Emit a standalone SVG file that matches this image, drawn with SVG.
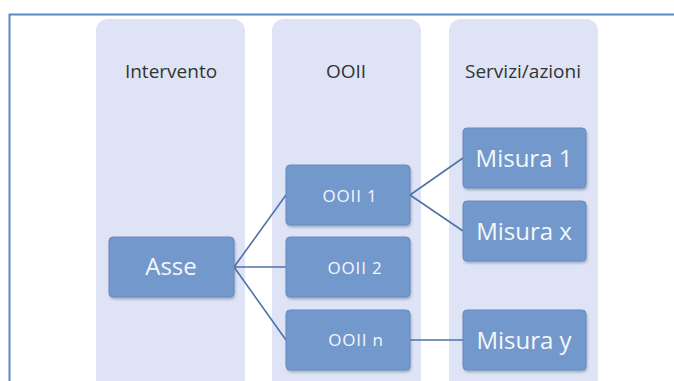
<svg xmlns="http://www.w3.org/2000/svg" width="674" height="381" viewBox="0 0 674 381">
<defs>
<style>
.col{fill:#dee4f5;}
.box{fill:#7399cc;stroke:#6689bf;stroke-width:1;}
.hdr{font-family:"Open Sans","Liberation Sans",sans-serif;font-size:19px;fill:#333333;text-anchor:middle;}
.big{font-family:"Open Sans","Liberation Sans",sans-serif;font-size:24px;fill:#f4f7fc;text-anchor:middle;}
.sm{font-family:"Open Sans","Liberation Sans",sans-serif;font-size:17px;letter-spacing:0.8px;fill:#f4f7fc;text-anchor:middle;}
.con{stroke:#4f72a8;stroke-width:1.6;fill:none;}
</style>
<filter id="sh" x="-10%" y="-10%" width="125%" height="130%">
<feDropShadow dx="1" dy="2" stdDeviation="1.2" flood-color="#3a4f70" flood-opacity="0.35"/>
</filter>
</defs>
<rect x="0" y="0" width="674" height="381" fill="#ffffff"/>
<path d="M9.5 381 V14.5 H674" fill="none" stroke="#5b86c4" stroke-width="2"/>
<g id="columns">
<rect class="col" x="96" y="19" width="149" height="372" rx="12"/>
<rect class="col" x="272" y="19" width="149" height="372" rx="12"/>
<rect class="col" x="449" y="19" width="149" height="372" rx="12"/>
</g>
<g id="headers">
<text class="hdr" x="171" y="78">Intervento</text>
<text class="hdr" x="346" y="78">OOII</text>
<text class="hdr" x="523" y="78">Servizi/azioni</text>
</g>
<g id="connectors">
<path class="con" d="M234 267 L286 195"/>
<path class="con" d="M234 267 L286 267"/>
<path class="con" d="M234 267 L286 340"/>
<path class="con" d="M410 195 L463 158"/>
<path class="con" d="M410 195 L463 231"/>
<path class="con" d="M410 340 L463 340"/>
</g>
<g id="asse">
<rect class="box" filter="url(#sh)" x="109" y="237" width="125" height="60" rx="4"/>
<text class="big" x="171" y="275">Asse</text>
</g>
<g id="ooii1">
<rect class="box" filter="url(#sh)" x="286" y="165" width="124" height="60" rx="4"/>
<text class="sm" x="350" y="202">OOII 1</text>
</g>
<g id="ooii2">
<rect class="box" filter="url(#sh)" x="286" y="237" width="124" height="60" rx="4"/>
<text class="sm" x="355" y="274">OOII 2</text>
</g>
<g id="ooiin">
<rect class="box" filter="url(#sh)" x="286" y="310" width="124" height="60" rx="4"/>
<text class="sm" x="356" y="346">OOII n</text>
</g>
<g id="misura1">
<rect class="box" filter="url(#sh)" x="463" y="128" width="123" height="60" rx="4"/>
<text class="big" x="524" y="167">Misura 1</text>
</g>
<g id="misurax">
<rect class="box" filter="url(#sh)" x="463" y="201" width="123" height="60" rx="4"/>
<text class="big" x="524" y="240">Misura x</text>
</g>
<g id="misuray">
<rect class="box" filter="url(#sh)" x="463" y="310" width="123" height="60" rx="4"/>
<text class="big" x="524" y="349">Misura y</text>
</g>
</svg>
